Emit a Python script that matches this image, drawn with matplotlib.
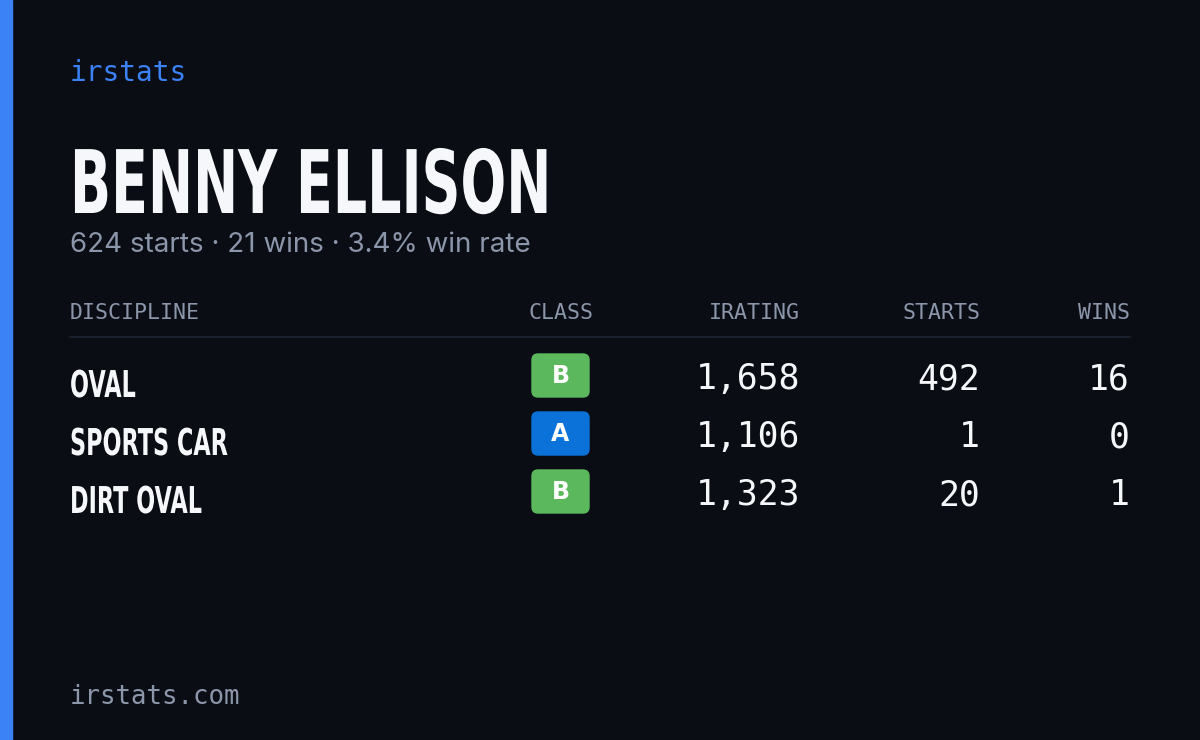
import matplotlib.pyplot as plt
from matplotlib.patches import FancyBboxPatch, Rectangle, PathPatch
from matplotlib.textpath import TextPath
from matplotlib.font_manager import FontProperties
from matplotlib.transforms import Affine2D

driver = "BENNY ELLISON"
summary = "624 starts · 21 wins · 3.4% win rate"
columns = ["DISCIPLINE", "CLASS", "IRATING", "STARTS", "WINS"]
disciplines = ["OVAL", "SPORTS CAR", "DIRT OVAL"]
classes = ["B", "A", "B"]
iratings = [1658, 1106, 1323]
starts = [492, 1, 20]
wins = [16, 0, 1]

bg = "#0a0d14"
class_colors = {"A": "#0b72d9", "B": "#5cb85c"}
muted = "#8c96aa"
white = "#f5f7fb"

fig = plt.figure(figsize=(12, 7.4), dpi=100)
fig.patch.set_facecolor(bg)
ax = fig.add_axes([0, 0, 1, 1])
ax.set_xlim(0, 1200)
ax.set_ylim(740, 0)
ax.axis("off")

ax.add_patch(Rectangle((0, 0), 12, 740, color="#3b82f6"))

mono = ["DejaVu Sans Mono"]
boldprop = FontProperties(family="DejaVu Sans", weight="bold")


def condensed(x, baseline, s, cap_px, squeeze):
    # no condensed font installed, so squeeze a bold outline horizontally
    tp = TextPath((0, 0), s, size=cap_px / 0.73, prop=boldprop)
    tr = Affine2D().scale(squeeze, -1).translate(x, baseline)
    ax.add_patch(PathPatch(tr.transform_path(tp), color=white, lw=0))


ax.text(70, 73, "irstats", color="#3b82f6", fontsize=20, family=mono, va="center")
condensed(70, 213, driver, 64, 0.615)
ax.text(70, 245, summary, color=muted, fontsize=20, family=["Inter", "DejaVu Sans"],
        va="center")

col_x = [70, 593, 800, 980, 1130]
col_ha = ["left", "right", "right", "right", "right"]
for c, x, ha in zip(columns, col_x, col_ha):
    ax.text(x, 313, c, color=muted, fontsize=15.5, family=mono, ha=ha, va="center")
ax.plot([70, 1130], [337, 337], color="#1e2430", lw=1.2)

for i, d in enumerate(disciplines):
    y = 377 + i * 58
    condensed(70, y + 20, d, 27, 0.605)
    ax.add_patch(FancyBboxPatch((532, y - 23), 57, 43, boxstyle="round,pad=0,rounding_size=6",
                                color=class_colors[classes[i]]))
    ax.text(560.5, y - 1, classes[i], color="white", fontsize=17, weight="bold",
            ha="center", va="center")
    for x, v in zip(col_x[2:], [iratings[i], starts[i], wins[i]]):
        ax.text(x, y + 2, f"{v:,}", color=white, fontsize=25, family=mono,
                ha="right", va="center")

ax.text(70, 697, "irstats.com", color=muted, fontsize=18.5, family=mono, va="center")

fig.savefig("out.png", facecolor=bg)
